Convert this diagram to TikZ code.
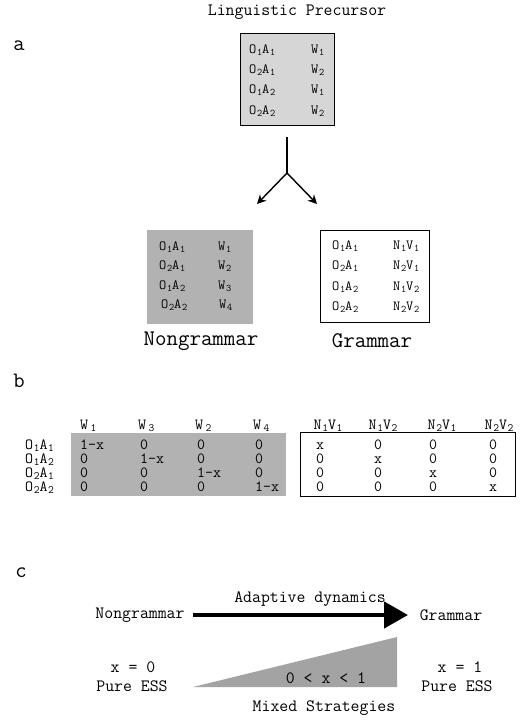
\documentclass[tikz,border=0pt]{standalone}
\usetikzlibrary{arrows.meta}
\newcommand{\ix}[1]{\hspace{0.6pt}\raisebox{-0.3ex}{\scalebox{0.72}{#1}}}
\definecolor{paleshade}{gray}{0.84}
\definecolor{midshade}{gray}{0.70}
\definecolor{darkshade}{gray}{0.64}
\tikzset{
  entry/.style={inner sep=0pt, anchor=west, font=\ttfamily\fontsize{14}{14}\selectfont},
  cell/.style={inner sep=0pt, anchor=west, text height=9pt, text depth=1pt, font=\ttfamily\fontsize{15.5}{15}\selectfont},
  mid/.style={cell, anchor=center},
  caption/.style={inner sep=0pt, font=\ttfamily\fontsize{17.3}{17}\selectfont},
  bigcaption/.style={inner sep=0pt, font=\ttfamily\fontsize{22.3}{22}\selectfont},
  panel/.style={inner sep=0pt, font=\ttfamily\fontsize{22}{22}\selectfont},
}

\begin{document}
\begin{tikzpicture}[x=1pt,y=-1pt]
\useasboundingbox (0,0) rectangle (525,722);
% panel a
\node [panel] at (19,46) {a};
\node [caption] (title) at (297,12) {Linguistic Precursor};
\filldraw [fill=paleshade, line width=0.8pt] (240,33) rectangle (334,125);
\node [entry] at (249,50) {O\ix1A\ix1};  \node [entry] at (311,50) {W\ix1};
\node [entry] at (249,70) {O\ix2A\ix1};  \node [entry] at (311,70) {W\ix2};
\node [entry] at (249,90) {O\ix1A\ix2};  \node [entry] at (311,90) {W\ix1};
\node [entry] at (249,111) {O\ix2A\ix2}; \node [entry] at (311,111) {W\ix2};
\coordinate (top) at (287,137);
\coordinate (split) at (287,173);
\coordinate (nongtip) at (257,204);
\coordinate (gramtip) at (317,204);
\draw [line width=1.4pt] (top) -- (split);
\draw [line width=1.4pt, -{Stealth[length=9pt,width=9pt]}] (split) -- (nongtip);
\draw [line width=1.4pt, -{Stealth[length=9pt,width=9pt]}] (split) -- (gramtip);
\fill [midshade] (147,230) rectangle (253,324);
\node [entry] at (159,247) {O\ix1A\ix1}; \node [entry] at (218,247) {W\ix1};
\node [entry] at (159,266) {O\ix2A\ix1}; \node [entry] at (218,266) {W\ix2};
\node [entry] at (159,286) {O\ix1A\ix2}; \node [entry] at (218,286) {W\ix3};
\node [entry] at (161,305) {O\ix2A\ix2}; \node [entry] at (219,305) {W\ix4};
\node [bigcaption] at (201,341) {Nongrammar};
\draw [line width=0.8pt] (320,230) rectangle (429,322);
\node [entry] at (332,246) {O\ix1A\ix1}; \node [entry] at (393,246) {N\ix1V\ix1};
\node [entry] at (332,266) {O\ix2A\ix1}; \node [entry] at (393,266) {N\ix2V\ix1};
\node [entry] at (332,287) {O\ix1A\ix2}; \node [entry] at (393,287) {N\ix1V\ix2};
\node [entry] at (332,307) {O\ix2A\ix2}; \node [entry] at (393,307) {N\ix2V\ix2};
\node [bigcaption] at (372,341) {Grammar};
% panel b
\node [panel] at (19,381) {b};
\fill [midshade] (71,433) rectangle (286,496);
\draw [line width=0.8pt] (300,432) rectangle (515,496);
\node [cell] at (80,425) {W\ix{\,1}};  \node [cell] at (138,425) {W\ix{\,3}};
\node [cell] at (195,425) {W\ix{\,2}}; \node [cell] at (253,425) {W\ix{\,4}};
\node [mid] at (328,425) {N\ix1V\ix1}; \node [mid] at (383,425) {N\ix1V\ix2};
\node [mid] at (442,425) {N\ix2V\ix1}; \node [mid] at (499,425) {N\ix2V\ix2};
\node [cell] at (25,445) {O\ix1A\ix1};
\node [cell] at (25,459) {O\ix1A\ix2};
\node [cell] at (25,473) {O\ix2A\ix1};
\node [cell] at (25,487) {O\ix2A\ix2};
\node [cell] at (80,445) {1-x}; \node [cell] at (140,445) {0};   \node [cell] at (197,445) {0};   \node [cell] at (255,445) {0};
\node [cell] at (80,459) {0};   \node [cell] at (140,459) {1-x}; \node [cell] at (197,459) {0};   \node [cell] at (255,459) {0};
\node [cell] at (80,473) {0};   \node [cell] at (140,473) {0};   \node [cell] at (197,473) {1-x}; \node [cell] at (255,473) {0};
\node [cell] at (80,487) {0};   \node [cell] at (140,487) {0};   \node [cell] at (197,487) {0};   \node [cell] at (255,487) {1-x};
\node [mid] at (320,445) {x}; \node [mid] at (378,445) {0}; \node [mid] at (433,445) {0}; \node [mid] at (493,445) {0};
\node [mid] at (320,459) {0}; \node [mid] at (378,459) {x}; \node [mid] at (433,459) {0}; \node [mid] at (493,459) {0};
\node [mid] at (320,473) {0}; \node [mid] at (378,473) {0}; \node [mid] at (433,473) {x}; \node [mid] at (493,473) {0};
\node [mid] at (320,487) {0}; \node [mid] at (378,487) {0}; \node [mid] at (433,487) {0}; \node [mid] at (493,487) {x};
% panel c
\node [panel] at (21,573) {c};
\node [caption] (nong) at (140,615) {Nongrammar};
\node [caption] (gram) at (451,615) {Grammar};
\node [caption] at (310,599) {Adaptive dynamics};
\coordinate (tip) at (408,615);
\draw [line width=4.5pt, -{Triangle[length=24pt,width=26pt]}] (nong.east) ++(8,0) -- (tip);
\fill [darkshade] (193,687) -- (397,687) -- (397,637) -- cycle;
\node [caption] at (326,678) {0 < x < 1};
\node [caption] at (133,667) {x = 0};
\node [caption] at (132,686) {Pure ESS};
\node [caption] at (460,667) {x = 1};
\node [caption] at (457,686) {Pure ESS};
\node [caption] at (324,708) {Mixed Strategies};
\end{tikzpicture}
\end{document}
